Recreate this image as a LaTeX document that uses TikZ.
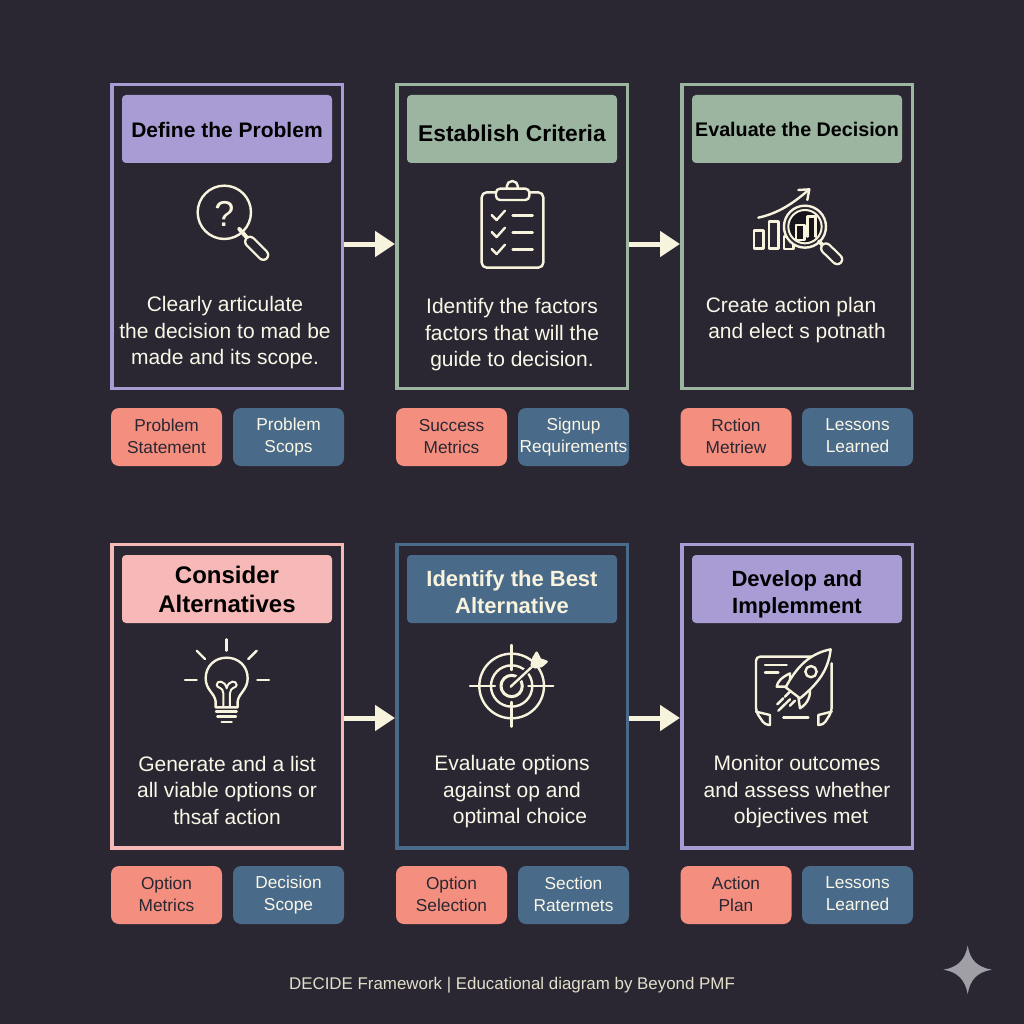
\documentclass[tikz,border=0pt]{standalone}
\usepackage{fontspec}
\setmainfont{Liberation Sans}
\usetikzlibrary{arrows.meta}
\definecolor{bgcol}{HTML}{2A2733}
\definecolor{cpurple}{HTML}{A99BD3}
\definecolor{cgreen}{HTML}{9BB5A0}
\definecolor{cpink}{HTML}{F7B8B8}
\definecolor{cblue}{HTML}{4A6A8A}
\definecolor{csalmon}{HTML}{F48F7F}
\definecolor{ccream}{HTML}{F8F3DC}
\definecolor{cstar}{HTML}{A09FA5}
\tikzset{
	cardbox/.style={rectangle,draw,line width=3.5pt,minimum width=230.5pt,minimum height=303.5pt},
	headbox/.style={rectangle,rounded corners=4pt,minimum width=210pt,minimum height=68pt,inner sep=0pt,align=center,text=black,font=\bfseries\fontsize{#1}{29}\selectfont},
	bodytext/.style={align=center,inner sep=0pt,text=ccream!70!white,font=\fontsize{21}{26.5}\selectfont},
	chipbox/.style={rectangle,rounded corners=8pt,minimum width=111pt,minimum height=58pt,inner sep=0pt,align=center,font=\fontsize{17.3}{22}\selectfont,execute at begin node={\rule{0pt}{20pt}},execute at end node={\rule[-2pt]{0pt}{2pt}}},
	chipred/.style={chipbox,fill=csalmon,text=bgcol},
	chipblue/.style={chipbox,fill=cblue,text=ccream!70!white},
	flowarrow/.style={draw=ccream,fill=ccream,line width=5pt,-{Triangle[length=20pt,width=25pt]}},
	iconline/.style={draw=ccream,line width=2.4pt,line cap=round,line join=round},
	zoomed/.style={shift={#1},scale=.3333}
}
\begin{document}
\begin{tikzpicture}[x=1pt,y=-1pt]
\fill[bgcol] (0,0) rectangle (1024,1024);
\useasboundingbox (0,0) rectangle (1024,1024);

\node [cardbox,draw=cpurple] (define) at (227,236.5) {};
\node [cardbox,draw=cgreen] (establish) at (512,236.5) {};
\node [cardbox,draw=cgreen] (evaluate) at (797,236.5) {};
\node [cardbox,draw=cpink] (consider) at (227,696) {};
\node [cardbox,draw=cblue] (identify) at (512,696) {};
\node [cardbox,draw=cpurple] (develop) at (797,696) {};

\node [headbox=21,fill=cpurple,text height=19pt,text depth=2pt] (defineHead) at (227,129) {Define the Problem};
\node [headbox=22.8,fill=cgreen,text height=27pt,text depth=1pt] (establishHead) at (512,129) {Establish Criteria};
\node [headbox=19.7,fill=cgreen] (evaluateHead) at (797,129) {Evaluate the Decision};
\node [headbox=24,fill=cpink] (considerHead) at (227,589) {Consider\\Alternatives};
\node [headbox=22,fill=cblue,text=ccream] (identifyHead) at (512,589) {\rule{0pt}{22pt}Identify the Best\\[-2pt]Alternative};
\node [headbox=22,fill=cpurple] (developHead) at (797,589) {\rule{0pt}{26pt}Develop and\\[-2pt]Implemment};

\node [bodytext] (defineText) at (225,333) {Clearly articulate\\the decision to mad be\\made and its scope.};
\node [bodytext] (establishText) at (512,335) {Identify the factors\\factors that will the\\guide to decision.};
\node [bodytext] (evaluateText) at (797,320) {Create action plan\hspace*{12pt}\\and elect s potnath};
\node [bodytext] (considerText) at (227,790) {Generate and a list\\all viable options or\\thsaf action};
\node [bodytext] (identifyText) at (512,792) {Evaluate options\\against op and\\\hspace*{16pt}optimal choice};
\node [bodytext] (developText) at (797,792) {Monitor outcomes\\and assess whether\\\hspace*{8pt}objectives met};

\node [chipred] (defineA) at (166.5,437) {Problem\\Statement};
\node [chipblue] (defineB) at (288.5,437) {Problem\\Scops};
\node [chipred] (establishA) at (451.5,437) {Success\\Metrics};
\node [chipblue] (establishB) at (573.5,437) {Signup\\Requirements};
\node [chipred] (evaluateA) at (736,437) {Rction\\Metriew};
\node [chipblue] (evaluateB) at (857.5,437) {Lessons\\Learned};
\node [chipred] (considerA) at (166.5,895) {Option\\Metrics};
\node [chipblue] (considerB) at (288.5,895) {Decision\\Scope};
\node [chipred] (identifyA) at (451.5,895) {Option\\Selection};
\node [chipblue] (identifyB) at (573.5,895) {Section\\Ratermets};
\node [chipred] (developA) at (736,895) {Action\\Plan};
\node [chipblue] (developB) at (857.5,895) {Lessons\\Learned};

\draw [flowarrow] ([yshift=-7.5pt]define.east) -- ([yshift=-7.5pt]establish.west);
\draw [flowarrow] ([yshift=-7.5pt]establish.east) -- ([yshift=-7.5pt]evaluate.west);
\draw [flowarrow] ([yshift=-22pt]consider.east) -- ([yshift=-22pt]identify.west);
\draw [flowarrow] ([yshift=-22pt]identify.east) -- ([yshift=-22pt]develop.west);

\begin{scope}[zoomed={(100,75)}]
	\draw [iconline] (373,412) circle (80);
	\node [text=ccream,font=\fontsize{36}{36}\selectfont] (question) at (373,416) {?};
	\draw [iconline,line width=4pt] (418,462) -- (448,496);
	\draw [iconline,line width=12pt] (450,500) -- (490,540);
	\draw [bgcol,line width=7.4pt,line cap=round] (450,500) -- (490,540);
\end{scope}

\begin{scope}[zoomed={(470,170)}]
	\draw [iconline,rounded corners=5pt] (35,67) rectangle (220,293);
	\draw [iconline,fill=bgcol] (127,50) circle (17);
	\draw [iconline,fill=bgcol,rounded corners=4pt] (78,90) -- (78,56) -- (178,56) -- (178,90) -- cycle;
	\foreach \y in {0,51,102}{
		\draw [iconline] (65,135+\y) -- (80,150+\y) -- (105,122+\y);
		\draw [iconline] (128,137+\y) -- (188,137+\y);
	}
	\draw [iconline] (865,143) .. controls (925,130) and (970,100) .. (1018,58);
	\draw [iconline] (985,60) -- (1018,58) -- (1012,90);
	\draw [iconline] (852,182) rectangle (880,235);
	\draw [iconline] (897,155) rectangle (925,235);
	\draw [iconline] (942,200) rectangle (970,237);
	\draw [iconline,fill=bgcol] (1005,170) circle (63);
	\draw [iconline,fill=black!45!bgcol,line width=2pt] (1005,170) circle (50);
	\draw [iconline] (978,210) -- (978,165) -- (1003,165) -- (1003,210) -- cycle;
	\draw [iconline] (1013,200) -- (1013,140) -- (1037,140) -- (1037,200);
	\draw [iconline,line width=4pt] (1048,215) -- (1065,232);
	\draw [iconline,line width=12pt] (1068,235) -- (1102,268);
	\draw [bgcol,line width=7.4pt,line cap=round] (1068,235) -- (1102,268);
\end{scope}

\begin{scope}[zoomed={(170,630)}]
	\draw [iconline] (137,232) -- (137,215) .. controls (135,190) and (107,180) .. (107,145)
		.. controls (107,108) and (135,83) .. (170,83) .. controls (205,83) and (233,108) .. (233,145)
		.. controls (233,180) and (205,190) .. (203,215) -- (203,232) -- cycle;
	\draw [iconline,line width=2pt] (160,230) -- (160,190) .. controls (160,170) and (140,175) .. (140,165)
		.. controls (140,150) and (165,150) .. (170,175) .. controls (175,150) and (200,150) .. (200,165)
		.. controls (200,175) and (180,170) .. (180,190) -- (180,230);
	\draw [iconline] (138,245) -- (200,245);
	\draw [iconline] (142,260) -- (198,260);
	\draw [iconline] (155,276) -- (185,276);
	\draw [iconline] (170,28) -- (170,62);
	\draw [iconline] (80,62) -- (105,87);
	\draw [iconline] (260,62) -- (235,87);
	\draw [iconline] (45,150) -- (80,150);
	\draw [iconline] (262,150) -- (297,150);
	\draw [iconline] (1025,168) circle (97);
	\draw [iconline] (1025,168) circle (62);
	\draw [iconline,line width=3pt] (1025,168) circle (32);
	\draw [iconline] (900,168) -- (975,168);
	\draw [iconline] (1075,168) -- (1150,168);
	\draw [iconline] (1025,45) -- (1025,120);
	\draw [iconline] (1025,216) -- (1025,290);
	\draw [bgcol,line width=6pt] (1030,160) -- (1090,105);
	\draw [iconline] (1022,170) -- (1095,102);
	\draw [iconline,fill=ccream] (1085,105) -- (1090,85) -- (1100,68) -- (1110,88) -- (1130,95) -- (1115,108) -- (1095,112) -- cycle;
\end{scope}

\begin{scope}[zoomed={(740,640)}]
	\draw [iconline,rounded corners=4pt] (225,50) -- (48,50) -- (48,215) -- (75,255) -- (90,255);
	\draw [iconline] (48,215) -- (90,225) -- (90,255);
	\draw [iconline,rounded corners=4pt] (235,255) -- (250,255) -- (275,215) -- (275,70);
	\draw [iconline] (275,215) -- (235,225) -- (235,255);
	\draw [iconline] (75,75) -- (140,75);
	\draw [iconline] (75,97) -- (115,97);
	\draw [iconline] (130,233) -- (205,233);
	\draw [iconline,fill=bgcol] (150,100) .. controls (125,112) and (112,125) .. (110,140) -- (150,140) -- cycle;
	\draw [iconline,fill=bgcol] (210,145) .. controls (212,165) and (205,190) .. (180,205) -- (175,170) -- cycle;
	\draw [iconline,fill=bgcol] (272,28) .. controls (210,40) and (170,80) .. (137,142) -- (180,175)
		.. controls (235,130) and (265,90) .. cycle;
	\draw [iconline] (213,95) circle (17);
	\draw [iconline] (150,155) -- (135,170);
	\draw [iconline] (130,175) -- (112,193);
	\draw [iconline] (150,178) -- (115,212);
	\draw [iconline] (165,182) -- (150,197);
\end{scope}

\node [text=ccream!90!bgcol,font=\fontsize{16.9}{20}\selectfont,inner sep=0pt] (footer) at (512,985) {DECIDE Framework | Educational diagram by Beyond PMF};
\fill [cstar] (967.7,945.5) .. controls (970,960) and (977,967) .. (991.8,969.7)
	.. controls (977,972) and (970,980) .. (967.7,994)
	.. controls (965,980) and (958,972) .. (943.5,969.7)
	.. controls (958,967) and (965,960) .. cycle;
\end{tikzpicture}
\end{document}
